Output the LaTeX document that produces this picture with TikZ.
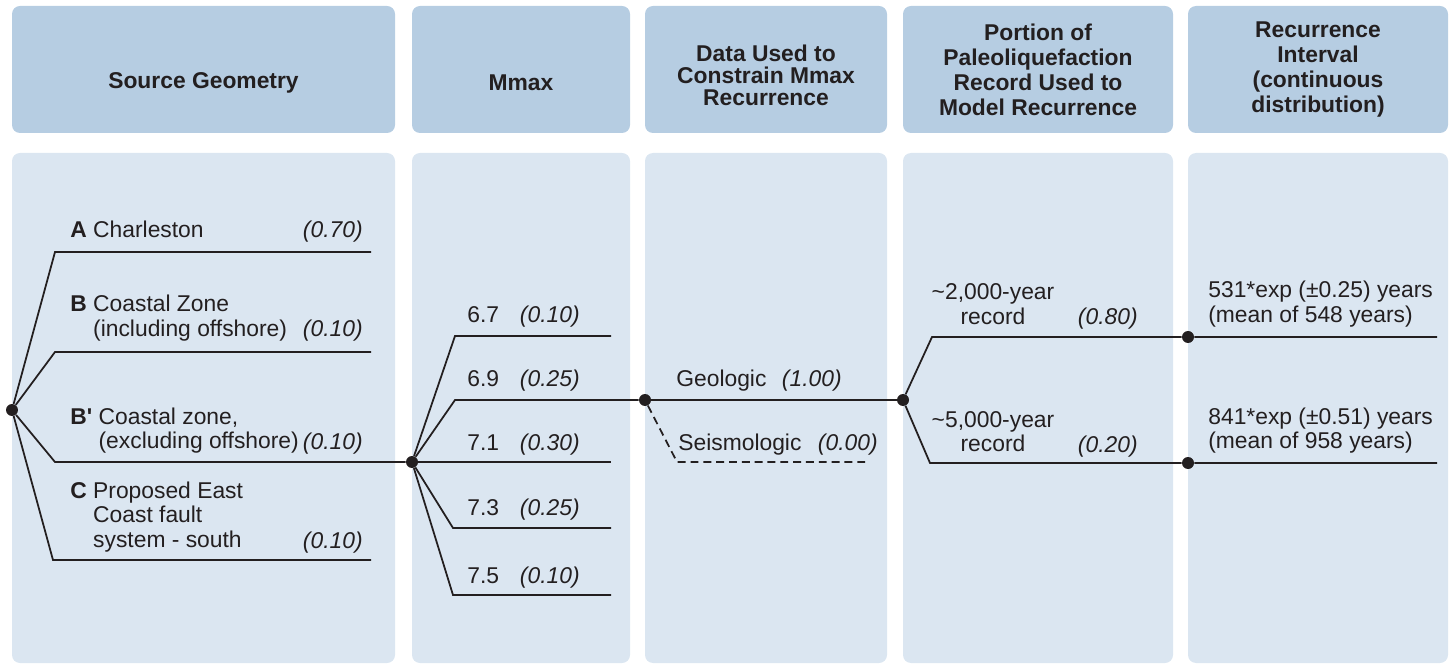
\documentclass[tikz,border=0pt]{standalone}
\usepackage{fontspec}
\setmainfont{Liberation Sans}
\usepackage{tikz}
\usetikzlibrary{positioning, calc, fit}

\definecolor{headblue}{RGB}{182,205,226}
\definecolor{bodyblue}{RGB}{219,230,241}
\definecolor{ink}{RGB}{35,31,32}

\tikzset{
  headbox/.style = {fill=headblue, rounded corners=0.16cm, inner sep=0pt},
  headtxt/.style = {inner sep=0pt, align=center, text=ink, font=\fontsize{13}{12.5}\selectfont\bfseries},
  tallhead/.style = {headtxt, font=\fontsize{13}{14.2}\selectfont\bfseries},
  bodybox/.style = {fill=bodyblue, rounded corners=0.16cm, inner sep=0pt},
  knot/.style = {circle, fill=ink, inner sep=0pt, minimum size=0.24cm},
  branch/.style = {draw=ink, line width=1pt},
  lbl/.style = {inner sep=0pt, anchor=base west, text=ink, font=\fontsize{13}{14.2}\selectfont},
  prob/.style = {inner sep=0pt, anchor=base east, text=ink, font=\fontsize{13}{14.2}\selectfont\itshape},
}

\begin{document}
\begin{tikzpicture}[x=0.02cm, y=-0.02cm]
\useasboundingbox (0,0) rectangle (1450,665);

% column heads
\node[headbox, fit={(12,6) (395,133)}] (hSource) {};
\node[headbox, fit={(412,6) (630,133)}] (hMmax) {};
\node[headbox, fit={(645,6) (887,133)}] (hData) {};
\node[headbox, fit={(903,6) (1173,133)}] (hPortion) {};
\node[headbox, fit={(1188,6) (1448,133)}] (hInterval) {};
\node[headtxt] (tSource) at ($(hSource.center)+(0,13)$) {Source Geometry};
\node[headtxt] (tMmax) at ($(hMmax.center)+(0,13)$) {Mmax};
\node[headtxt] (tData) at ($(hData.center)+(0,6)$) {Data Used to\\Constrain Mmax\\Recurrence};
\node[tallhead] (tPortion) at ($(hPortion.center)+(0,0)$) {Portion of\\Paleoliquefaction\\Record Used to\\Model Recurrence};
\node[tallhead] (tInterval) at ($(hInterval.center)+(0,0)$) {Recurrence\\Interval\\(continuous\\distribution)};

% column bodies
\node[bodybox, fit={(12,153) (395,663)}] (bSource) {};
\node[bodybox, fit={(412,153) (630,663)}] (bMmax) {};
\node[bodybox, fit={(645,153) (887,663)}] (bData) {};
\node[bodybox, fit={(903,153) (1173,663)}] (bPortion) {};
\node[bodybox, fit={(1188,153) (1448,663)}] (bInterval) {};

% branch points
\node[knot] (s0) at (12,410) {};
\node[knot] (m0) at (412,462) {};
\node[knot] (d0) at (645,400) {};
\node[knot] (p0) at (903,400) {};
\node[knot] (r1) at (1188,337) {};
\node[knot] (r2) at (1188,463) {};

% source geometry
\coordinate (sA1) at (55,252);  \coordinate (sA2) at (371,252);
\coordinate (sB1) at (55,352);  \coordinate (sB2) at (371,352);
\coordinate (sBp1) at (55,462);
\coordinate (sC1) at (53,560);  \coordinate (sC2) at (371,560);
\draw[branch] (s0) -- (sA1) -- (sA2);
\draw[branch] (s0) -- (sB1) -- (sB2);
\draw[branch] (s0) -- (sBp1) -- (m0);
\draw[branch] (s0) -- (sC1) -- (sC2);

\node[lbl] (tA) at (70,238) {\textbf{A} Charleston};
\node[prob] (pA) at (363,238) {(0.70)};
\node[lbl] (tB) at (70,312) {\begin{tabular}[t]{@{}l@{}}
    \textbf{B} Coastal Zone \\
    \hphantom{\textbf{B} }(including offshore)
  \end{tabular}};
\node[prob] (pB) at (363,337) {(0.10)};
\node[lbl] (tBp) at (70,424) {\begin{tabular}[t]{@{}l@{}}
    \textbf{B\textquotesingle} Coastal zone, \\
    \hphantom{\textbf{B\textquotesingle} }(excluding offshore)
  \end{tabular}};
\node[prob] (pBp) at (363,449) {(0.10)};
\node[lbl] (tC) at (70,498) {\begin{tabular}[t]{@{}l@{}}
    \textbf{C} Proposed East \\
    \hphantom{\textbf{C} }Coast fault \\
    \hphantom{\textbf{C} }system - south
  \end{tabular}};
\node[prob] (pC) at (363,548) {(0.10)};

% mmax
\coordinate (m67a) at (455,336); \coordinate (m67b) at (611,336);
\coordinate (m69a) at (455,400);
\coordinate (m71b) at (611,462);
\coordinate (m73a) at (453,528); \coordinate (m73b) at (611,528);
\coordinate (m75a) at (453,595); \coordinate (m75b) at (611,595);
\draw[branch] (m0) -- (m67a) -- (m67b);
\draw[branch] (m0) -- (m69a) -- (d0);
\draw[branch] (m0) -- (m71b);
\draw[branch] (m0) -- (m73a) -- (m73b);
\draw[branch] (m0) -- (m75a) -- (m75b);

\node[lbl] (t67) at (467,323) {6.7};  \node[prob] (p67) at (580,323) {(0.10)};
\node[lbl] (t69) at (467,387) {6.9};  \node[prob] (p69) at (580,387) {(0.25)};
\node[lbl] (t71) at (467,450) {7.1};  \node[prob] (p71) at (580,450) {(0.30)};
\node[lbl] (t73) at (467,515) {7.3};  \node[prob] (p73) at (580,515) {(0.25)};
\node[lbl] (t75) at (467,583) {7.5};  \node[prob] (p75) at (580,583) {(0.10)};

% data used
\coordinate (ds1) at (677,462); \coordinate (ds2) at (868,462);
\draw[branch] (d0) -- (p0);
\draw[branch, dash pattern=on 4.5pt off 2.8pt] (d0) -- (ds1) -- (ds2);

\node[lbl] (tGeo) at (676,387) {Geologic};
\node[prob] (pGeo) at (842,387) {(1.00)};
\node[lbl] (tSeis) at (678,450) {Seismologic};
\node[prob] (pSeis) at (878,450) {(0.00)};

% paleoliquefaction record
\coordinate (pU1) at (932,337); \coordinate (rU2) at (1437,337);
\coordinate (pL1) at (930,463); \coordinate (rL2) at (1437,463);
\draw[branch] (p0) -- (pU1) -- (r1) -- (rU2);
\draw[branch] (p0) -- (pL1) -- (r2) -- (rL2);

\node[lbl, anchor=base] (t2k) at (993,300) {\begin{tabular}[t]{@{}c@{}}
    \textasciitilde 2,000-year \\ record
  \end{tabular}};
\node[prob] (p2k) at (1138,325) {(0.80)};
\node[lbl, anchor=base] (t5k) at (993,427) {\begin{tabular}[t]{@{}c@{}}
    \textasciitilde 5,000-year \\ record
  \end{tabular}};
\node[prob] (p5k) at (1138,452) {(0.20)};

% recurrence interval
\node[lbl] (ri1) at (1208,298) {\begin{tabular}[t]{@{}l@{}}
    531*exp (±0.25) years \\ (mean of 548 years)
  \end{tabular}};
\node[lbl] (ri2) at (1208,424) {\begin{tabular}[t]{@{}l@{}}
    841*exp (±0.51) years \\ (mean of 958 years)
  \end{tabular}};
\end{tikzpicture}
\end{document}
